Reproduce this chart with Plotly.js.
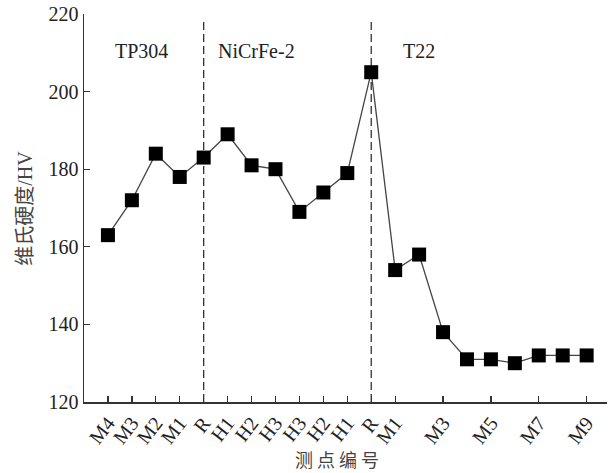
<!DOCTYPE html>
<html>
<head>
<meta charset="utf-8">
<script src="https://cdn.plot.ly/plotly-3.0.1.min.js"></script>
<style>html,body{margin:0;padding:0;background:#fff;}#chart{width:613px;height:473px;}</style>
</head>
<body>
<div id="chart"></div>
<script>
// Measurement points (index positions along the weld cross-section)
var pointLabels = ["M4","M3","M2","M1","R","H1","H2","H3","H3","H2","H1","R","M1","M2","M3","M4","M5","M6","M7","M8","M9"];
var hardness = [163,172,184,178,183,189,181,180,169,174,179,205,154,158,138,131,131,130,132,132,132];
// Ticks shown on the x axis
var tickIndex = [0,1,2,3,4,5,6,7,8,9,10,11,12,14,16,18,20];
var tickText = ["M4","M3","M2","M1","R","H1","H2","H3","H3","H2","H1","R","M1","M3","M5","M7","M9"];
// Zone boundaries (fusion lines) and zone labels
var boundaryIndex = [4, 11];
var zoneNames = ["TP304","NiCrFe-2","T22"];
var zoneX = [1.42, 6.22, 13.0];

var xs = pointLabels.map(function(_, i){ return i; });

var trace = {
  x: xs, y: hardness, text: pointLabels,
  type: "scatter", mode: "lines+markers",
  line: {color: "#444", width: 1.3},
  marker: {symbol: "square", size: 14, color: "#000"},
  hoverinfo: "text+y"
};

var shapes = boundaryIndex.map(function(b){
  return {type: "line", xref: "x", yref: "y", x0: b, x1: b, y0: 120, y1: 218.3,
          line: {color: "#333", width: 1.3, dash: "8px,4px"}, layer: "below"};
});

var serif = "Liberation Serif, Times New Roman, serif";
var cjk = "Noto Sans CJK SC";

var annotations = zoneNames.map(function(n, i){
  return {text: n, x: zoneX[i], y: 210.5, xref: "x", yref: "y", showarrow: false,
          font: {family: serif, size: 20, color: "#222"}};
});
// axis titles as annotations (placed as in the reference)
annotations.push({
  text: "维氏硬度<span style=\"font-family:Liberation Serif\">/HV</span>",
  xref: "paper", yref: "paper", x: -0.117, y: 0.5, xanchor: "center", yanchor: "middle",
  textangle: -90, showarrow: false,
  font: {family: cjk, size: 20, color: "#444"}
});
annotations.push({
  text: "测 点 编 号",
  xref: "paper", yref: "paper", x: 0.4837, y: -0.147, xanchor: "center", yanchor: "middle",
  showarrow: false,
  font: {family: cjk, size: 18, color: "#444"}
});

var layout = {
  width: 613, height: 473,
  margin: {l: 84, r: 6, t: 13.5, b: 71},
  paper_bgcolor: "#fff", plot_bgcolor: "#fff",
  showlegend: false,
  xaxis: {
    range: [-1, 20.85], showgrid: false, zeroline: false,
    showline: true, linecolor: "#333", linewidth: 1.5,
    ticks: "inside", ticklen: 6, tickcolor: "#333", tickwidth: 1.3,
    tickmode: "array", tickvals: tickIndex, ticktext: tickText,
    tickangle: -52, tickfont: {family: serif, size: 20, color: "#222"}
  },
  yaxis: {
    range: [120, 220], showgrid: false, zeroline: false,
    showline: true, linecolor: "#333", linewidth: 1.5,
    ticks: "inside", ticklen: 6, tickcolor: "#333", tickwidth: 1.3,
    tickvals: [120,140,160,180,200,220],
    tickfont: {family: serif, size: 20, color: "#222"}
  },
  shapes: shapes,
  annotations: annotations
};

Plotly.newPlot("chart", [trace], layout, {displayModeBar: false, staticPlot: true});
</script>
</body>
</html>
